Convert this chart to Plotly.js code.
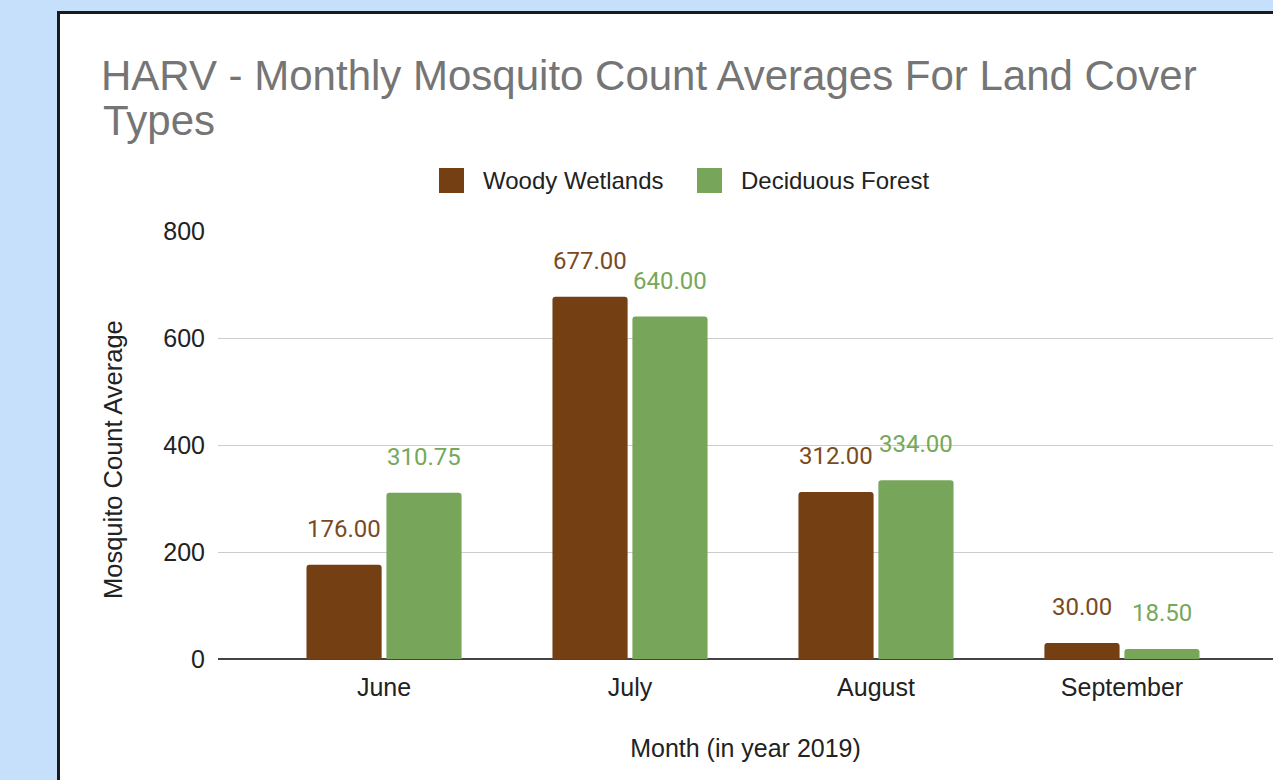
<!DOCTYPE html>
<html>
<head>
<meta charset="utf-8">
<script src="https://cdn.plot.ly/plotly-3.0.1.min.js"></script>
<style>
  html, body { margin: 0; padding: 0; width: 1273px; height: 780px; overflow: hidden; background: #c6e0fc; }
  #panel { position: absolute; left: 57px; top: 11px; width: 1220px; height: 775px; background: #ffffff;
           border-left: 3px solid #1a1a1a; border-top: 3px solid #1a1a1a; box-sizing: border-box; }
  #chart { position: absolute; left: 0; top: 0; width: 1273px; height: 780px; }
</style>
</head>
<body>
<div id="panel"></div>
<div id="chart"></div>
<script>
const months = ["June", "July", "August", "September"];
const seriesNames = ["Woody Wetlands", "Deciduous Forest"];
const woodyWetlands = [176.00, 677.00, 312.00, 30.00];
const deciduousForest = [310.75, 640.00, 334.00, 18.50];
const yTicks = [0, 200, 400, 600, 800];
const titleLines = ["HARV - Monthly Mosquito Count Averages For Land Cover", "Types"];
const xTitle = "Month (in year 2019)";
const yTitle = "Mosquito Count Average";

const barColors = ["#743f13", "#77a65b"];
const labelColors = ["#7a4a1f", "#76a85a"];
const seriesValues = [woodyWetlands, deciduousForest];

// plot area geometry (pixels)
const L = 218, R = 1273, T = 231, B = 659;
const W = 1273, H = 780;
const px = x => (x - L) / (R - L);
const py = y => (B - y) / (B - T);
const FONT = "'Liberation Sans', Arial, sans-serif";

const traces = seriesValues.map((vals, i) => ({
  type: "bar",
  name: seriesNames[i],
  x: months,
  y: vals,
  marker: { color: barColors[i], cornerradius: 3 },
  showlegend: false,
  hoverinfo: "x+y+name"
}));

const annotations = [];
seriesValues.forEach((vals, i) => {
  vals.forEach((v, j) => {
    annotations.push({
      x: months[j], y: v, xref: "x", yref: "y",
      text: v.toFixed(2),
      showarrow: false,
      xanchor: "center", yanchor: "bottom",
      xshift: i === 0 ? -40 : 40,
      yshift: 20,
      font: { family: "Roboto, 'Liberation Sans', sans-serif", size: 24, color: labelColors[i] }
    });
  });
});

// second title line
annotations.push({
  xref: "paper", yref: "paper", x: px(101), y: py(120),
  xanchor: "left", yanchor: "middle", showarrow: false,
  text: titleLines[1],
  font: { family: FONT, size: 42, color: "#757575" }
});

// y axis title (centred as in the original)
annotations.push({
  xref: "paper", yref: "paper", x: px(113), y: py(460),
  xanchor: "center", yanchor: "middle", showarrow: false,
  textangle: -90,
  text: yTitle,
  font: { family: FONT, size: 25.5, color: "#222222" }
});

// custom legend
const legendItems = [
  { sq: 439, tx: 481 },
  { sq: 697, tx: 739 }
];
const shapes = [];
legendItems.forEach((it, i) => {
  shapes.push({
    type: "rect", xref: "paper", yref: "paper",
    x0: px(it.sq), x1: px(it.sq + 25), y0: py(193), y1: py(168),
    fillcolor: barColors[i], line: { width: 0 }
  });
  annotations.push({
    xref: "paper", yref: "paper", x: px(it.tx), y: py(181),
    xanchor: "left", yanchor: "middle", showarrow: false,
    text: seriesNames[i],
    font: { family: FONT, size: 24, color: "#222222" }
  });
});

const layout = {
  width: W, height: H,
  paper_bgcolor: "rgba(0,0,0,0)",
  plot_bgcolor: "rgba(0,0,0,0)",
  margin: { l: L, r: W - R, t: T, b: H - B, pad: 0 },
  title: {
    text: titleLines[0],
    x: 101 / W, xanchor: "left", xref: "container",
    y: 1 - 61 / H, yanchor: "top", yref: "container",
    font: { family: FONT, size: 42, color: "#757575" }
  },
  font: { family: FONT, color: "#222222" },
  barmode: "group",
  bargap: 0.35,
  bargroupgap: 0.06,
  xaxis: {
    type: "category",
    range: [-0.675, 3.614],
    showgrid: false,
    showline: false,
    zeroline: false,
    ticks: "",
    ticklabelstandoff: 11,
    tickfont: { size: 25, color: "#222222" },
    title: { text: xTitle, standoff: 39, font: { size: 25, color: "#222222" } },
    fixedrange: true
  },
  yaxis: {
    range: [0, 800],
    tickvals: yTicks,
    ticktext: yTicks.map(String),
    showgrid: true,
    gridcolor: "#cccccc",
    gridwidth: 1,
    zeroline: true,
    zerolinecolor: "#444444",
    zerolinewidth: 2,
    showline: false,
    ticks: "",
    ticklabelstandoff: 12,
    tickfont: { size: 25, color: "#222222" },
    fixedrange: true
  },
  annotations: annotations,
  shapes: shapes
};

Plotly.newPlot("chart", traces, layout, { displayModeBar: false });
</script>
</body>
</html>
